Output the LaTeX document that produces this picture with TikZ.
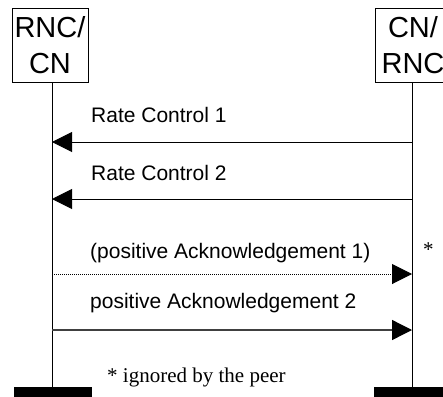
\documentclass[tikz,border=0pt]{standalone}
\usepackage{fontspec}
\setmainfont{Liberation Sans}
\newfontfamily\timesfont{Liberation Serif}
\usetikzlibrary{arrows.meta}
\begin{document}
\begin{tikzpicture}[x=1pt,y=-1pt,
  entity/.style={draw,line width=1pt,minimum width=76pt,minimum height=73pt,inner sep=0pt,align=center,
    font=\fontsize{29}{36}\selectfont},
  life/.style={line width=1pt},
  bar/.style={fill=black},
  msg/.style={line width=1pt,-{Triangle[length=20pt,width=20pt,color=black]}},
  lbl/.style={anchor=base west,inner sep=0pt,font=\fontsize{21}{25}\selectfont},
  note/.style={anchor=base west,inner sep=0pt,font=\timesfont\fontsize{21}{25}\selectfont}]
\useasboundingbox (0,0) rectangle (443,396);
% entities
\node[entity] (A) at (50,45.5) {RNC/\\CN};
\node[entity] (B) at (413,45.5) {CN/\\RNC};
% lifelines
\coordinate (Atop) at (52,82);
\coordinate (Abot) at (52,387);
\coordinate (Btop) at (412,82);
\coordinate (Bbot) at (412,387);
\draw[life] (Atop) -- (Abot);
\draw[life] (Btop) -- (Bbot);
% bars
\fill[bar] (14,387) rectangle (92,400);
\fill[bar] (374,387) rectangle (452,400);
% messages
\coordinate (m1a) at (52,142); \coordinate (m1b) at (412,142);
\coordinate (m2a) at (52,199); \coordinate (m2b) at (412,199);
\coordinate (m3a) at (52,274); \coordinate (m3b) at (412,274);
\coordinate (m4a) at (52,330); \coordinate (m4b) at (412,330);
\draw[msg] (m1b) -- (m1a);
\draw[msg] (m2b) -- (m2a);
\draw[msg,dash pattern=on 1pt off 1pt] (m3a) -- (m3b);
\draw[msg,line width=1.3pt,draw=black!75] (m4a) -- (m4b);
\node[lbl] (t1) at (91,122) {Rate Control 1};
\node[lbl] (t2) at (91,180) {Rate Control 2};
\node[lbl] (t3) at (90,258) {(positive Acknowledgement 1)};
\node[lbl] (t4) at (90,308) {positive Acknowledgement 2};
\node[note] (star) at (423,256) {*};
\node[note] (foot) at (107,382) {* ignored by the peer};
\end{tikzpicture}
\end{document}
